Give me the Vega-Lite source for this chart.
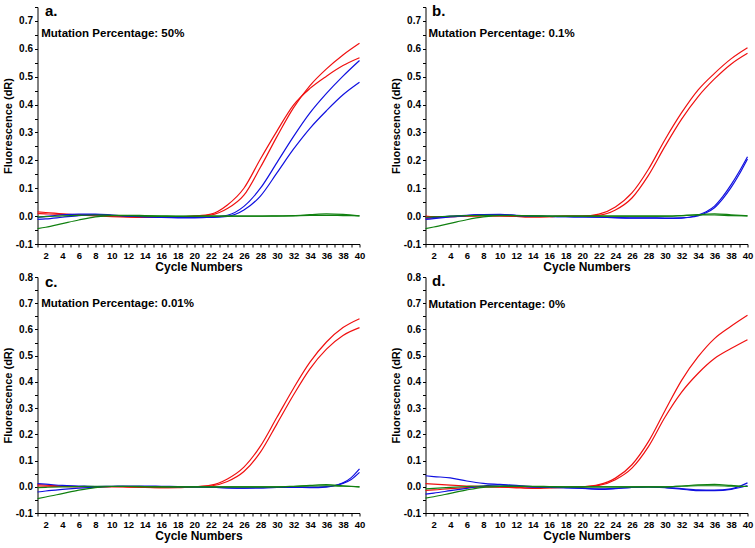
{
"$schema": "https://vega.github.io/schema/vega-lite/v6.json",
"background": "white",
"padding": {"left": 1.5, "top": 2, "right": 0, "bottom": 3},
"columns": 2,
"spacing": {"row": 33, "column": 66},
"bounds": "flush",
"datasets": {"q": [
{"p":"a","s":"r1","x":1,"y":0.015},{"p":"a","s":"r1","x":2,"y":0.013},{"p":"a","s":"r1","x":4,"y":0.008},{"p":"a","s":"r1","x":6,"y":0.004},{"p":"a","s":"r1","x":8,"y":0.001},{"p":"a","s":"r1","x":10,"y":-0.002},{"p":"a","s":"r1","x":12,"y":-0.004},{"p":"a","s":"r1","x":14,"y":-0.005},{"p":"a","s":"r1","x":16,"y":-0.005},{"p":"a","s":"r1","x":18,"y":-0.003},{"p":"a","s":"r1","x":20,"y":0.0},{"p":"a","s":"r1","x":22,"y":0.007},{"p":"a","s":"r1","x":24,"y":0.04},{"p":"a","s":"r1","x":26,"y":0.1},{"p":"a","s":"r1","x":28,"y":0.205},{"p":"a","s":"r1","x":30,"y":0.305},{"p":"a","s":"r1","x":32,"y":0.398},{"p":"a","s":"r1","x":34,"y":0.458},{"p":"a","s":"r1","x":36,"y":0.502},{"p":"a","s":"r1","x":38,"y":0.54},{"p":"a","s":"r1","x":40,"y":0.568},
{"p":"a","s":"r2","x":1,"y":0.009},{"p":"a","s":"r2","x":2,"y":0.008},{"p":"a","s":"r2","x":4,"y":0.006},{"p":"a","s":"r2","x":6,"y":0.005},{"p":"a","s":"r2","x":8,"y":0.004},{"p":"a","s":"r2","x":10,"y":0.001},{"p":"a","s":"r2","x":12,"y":-0.002},{"p":"a","s":"r2","x":14,"y":-0.004},{"p":"a","s":"r2","x":16,"y":-0.004},{"p":"a","s":"r2","x":18,"y":-0.002},{"p":"a","s":"r2","x":20,"y":0.0},{"p":"a","s":"r2","x":22,"y":0.004},{"p":"a","s":"r2","x":24,"y":0.027},{"p":"a","s":"r2","x":26,"y":0.075},{"p":"a","s":"r2","x":28,"y":0.175},{"p":"a","s":"r2","x":30,"y":0.285},{"p":"a","s":"r2","x":32,"y":0.388},{"p":"a","s":"r2","x":34,"y":0.468},{"p":"a","s":"r2","x":36,"y":0.528},{"p":"a","s":"r2","x":38,"y":0.578},{"p":"a","s":"r2","x":40,"y":0.62},
{"p":"a","s":"b1","x":1,"y":-0.012},{"p":"a","s":"b1","x":2,"y":-0.01},{"p":"a","s":"b1","x":4,"y":-0.004},{"p":"a","s":"b1","x":6,"y":0.002},{"p":"a","s":"b1","x":8,"y":0.005},{"p":"a","s":"b1","x":10,"y":0.003},{"p":"a","s":"b1","x":12,"y":0.0},{"p":"a","s":"b1","x":14,"y":-0.003},{"p":"a","s":"b1","x":16,"y":-0.005},{"p":"a","s":"b1","x":18,"y":-0.006},{"p":"a","s":"b1","x":20,"y":-0.006},{"p":"a","s":"b1","x":22,"y":-0.004},{"p":"a","s":"b1","x":24,"y":0.003},{"p":"a","s":"b1","x":26,"y":0.035},{"p":"a","s":"b1","x":28,"y":0.1},{"p":"a","s":"b1","x":30,"y":0.192},{"p":"a","s":"b1","x":32,"y":0.285},{"p":"a","s":"b1","x":34,"y":0.37},{"p":"a","s":"b1","x":36,"y":0.44},{"p":"a","s":"b1","x":38,"y":0.502},{"p":"a","s":"b1","x":40,"y":0.558},
{"p":"a","s":"b2","x":1,"y":-0.005},{"p":"a","s":"b2","x":2,"y":-0.001},{"p":"a","s":"b2","x":4,"y":0.005},{"p":"a","s":"b2","x":6,"y":0.007},{"p":"a","s":"b2","x":8,"y":0.007},{"p":"a","s":"b2","x":10,"y":0.004},{"p":"a","s":"b2","x":12,"y":0.0},{"p":"a","s":"b2","x":14,"y":-0.002},{"p":"a","s":"b2","x":16,"y":-0.004},{"p":"a","s":"b2","x":18,"y":-0.005},{"p":"a","s":"b2","x":20,"y":-0.005},{"p":"a","s":"b2","x":22,"y":-0.005},{"p":"a","s":"b2","x":24,"y":-0.001},{"p":"a","s":"b2","x":26,"y":0.022},{"p":"a","s":"b2","x":28,"y":0.072},{"p":"a","s":"b2","x":30,"y":0.155},{"p":"a","s":"b2","x":32,"y":0.24},{"p":"a","s":"b2","x":34,"y":0.315},{"p":"a","s":"b2","x":36,"y":0.378},{"p":"a","s":"b2","x":38,"y":0.435},{"p":"a","s":"b2","x":40,"y":0.48},
{"p":"a","s":"g1","x":1,"y":-0.045},{"p":"a","s":"g1","x":2,"y":-0.04},{"p":"a","s":"g1","x":4,"y":-0.027},{"p":"a","s":"g1","x":6,"y":-0.014},{"p":"a","s":"g1","x":8,"y":-0.003},{"p":"a","s":"g1","x":10,"y":0.002},{"p":"a","s":"g1","x":12,"y":0.003},{"p":"a","s":"g1","x":14,"y":0.002},{"p":"a","s":"g1","x":16,"y":0.001},{"p":"a","s":"g1","x":18,"y":0.0},{"p":"a","s":"g1","x":20,"y":0.0},{"p":"a","s":"g1","x":22,"y":0.0},{"p":"a","s":"g1","x":24,"y":0.0},{"p":"a","s":"g1","x":26,"y":0.0},{"p":"a","s":"g1","x":28,"y":0.0},{"p":"a","s":"g1","x":30,"y":0.001},{"p":"a","s":"g1","x":32,"y":0.002},{"p":"a","s":"g1","x":34,"y":0.005},{"p":"a","s":"g1","x":36,"y":0.008},{"p":"a","s":"g1","x":38,"y":0.006},{"p":"a","s":"g1","x":40,"y":0.001},
{"p":"a","s":"g2","x":1,"y":-0.003},{"p":"a","s":"g2","x":2,"y":-0.002},{"p":"a","s":"g2","x":4,"y":0.001},{"p":"a","s":"g2","x":6,"y":0.003},{"p":"a","s":"g2","x":8,"y":0.004},{"p":"a","s":"g2","x":10,"y":0.003},{"p":"a","s":"g2","x":12,"y":0.002},{"p":"a","s":"g2","x":14,"y":0.0},{"p":"a","s":"g2","x":16,"y":-0.001},{"p":"a","s":"g2","x":18,"y":-0.001},{"p":"a","s":"g2","x":20,"y":0.0},{"p":"a","s":"g2","x":22,"y":0.0},{"p":"a","s":"g2","x":24,"y":0.0},{"p":"a","s":"g2","x":26,"y":0.0},{"p":"a","s":"g2","x":28,"y":0.0},{"p":"a","s":"g2","x":30,"y":0.0},{"p":"a","s":"g2","x":32,"y":0.001},{"p":"a","s":"g2","x":34,"y":0.003},{"p":"a","s":"g2","x":36,"y":0.003},{"p":"a","s":"g2","x":38,"y":0.002},{"p":"a","s":"g2","x":40,"y":0.001},
{"p":"b","s":"r1","x":1,"y":0.0},{"p":"b","s":"r1","x":2,"y":-0.002},{"p":"b","s":"r1","x":4,"y":-0.002},{"p":"b","s":"r1","x":6,"y":0.0},{"p":"b","s":"r1","x":8,"y":0.001},{"p":"b","s":"r1","x":10,"y":0.001},{"p":"b","s":"r1","x":12,"y":-0.001},{"p":"b","s":"r1","x":14,"y":-0.003},{"p":"b","s":"r1","x":16,"y":-0.002},{"p":"b","s":"r1","x":18,"y":0.0},{"p":"b","s":"r1","x":20,"y":0.0},{"p":"b","s":"r1","x":22,"y":0.007},{"p":"b","s":"r1","x":24,"y":0.033},{"p":"b","s":"r1","x":26,"y":0.083},{"p":"b","s":"r1","x":28,"y":0.168},{"p":"b","s":"r1","x":30,"y":0.274},{"p":"b","s":"r1","x":32,"y":0.37},{"p":"b","s":"r1","x":34,"y":0.452},{"p":"b","s":"r1","x":36,"y":0.512},{"p":"b","s":"r1","x":38,"y":0.564},{"p":"b","s":"r1","x":40,"y":0.604},
{"p":"b","s":"r2","x":1,"y":-0.008},{"p":"b","s":"r2","x":2,"y":-0.006},{"p":"b","s":"r2","x":4,"y":-0.002},{"p":"b","s":"r2","x":6,"y":0.001},{"p":"b","s":"r2","x":8,"y":0.002},{"p":"b","s":"r2","x":10,"y":0.001},{"p":"b","s":"r2","x":12,"y":-0.001},{"p":"b","s":"r2","x":14,"y":-0.003},{"p":"b","s":"r2","x":16,"y":-0.002},{"p":"b","s":"r2","x":18,"y":0.0},{"p":"b","s":"r2","x":20,"y":0.0},{"p":"b","s":"r2","x":22,"y":0.003},{"p":"b","s":"r2","x":24,"y":0.022},{"p":"b","s":"r2","x":26,"y":0.065},{"p":"b","s":"r2","x":28,"y":0.146},{"p":"b","s":"r2","x":30,"y":0.25},{"p":"b","s":"r2","x":32,"y":0.347},{"p":"b","s":"r2","x":34,"y":0.428},{"p":"b","s":"r2","x":36,"y":0.492},{"p":"b","s":"r2","x":38,"y":0.545},{"p":"b","s":"r2","x":40,"y":0.584},
{"p":"b","s":"b1","x":1,"y":-0.012},{"p":"b","s":"b1","x":2,"y":-0.009},{"p":"b","s":"b1","x":4,"y":-0.003},{"p":"b","s":"b1","x":6,"y":0.002},{"p":"b","s":"b1","x":8,"y":0.005},{"p":"b","s":"b1","x":10,"y":0.006},{"p":"b","s":"b1","x":12,"y":0.003},{"p":"b","s":"b1","x":14,"y":0.0},{"p":"b","s":"b1","x":16,"y":-0.001},{"p":"b","s":"b1","x":18,"y":-0.002},{"p":"b","s":"b1","x":20,"y":-0.003},{"p":"b","s":"b1","x":22,"y":-0.004},{"p":"b","s":"b1","x":24,"y":-0.006},{"p":"b","s":"b1","x":26,"y":-0.007},{"p":"b","s":"b1","x":28,"y":-0.007},{"p":"b","s":"b1","x":30,"y":-0.008},{"p":"b","s":"b1","x":32,"y":-0.007},{"p":"b","s":"b1","x":33,"y":-0.004},{"p":"b","s":"b1","x":34,"y":0.004},{"p":"b","s":"b1","x":35,"y":0.016},{"p":"b","s":"b1","x":36,"y":0.036},{"p":"b","s":"b1","x":37,"y":0.07},{"p":"b","s":"b1","x":38,"y":0.112},{"p":"b","s":"b1","x":39,"y":0.16},{"p":"b","s":"b1","x":40,"y":0.213},
{"p":"b","s":"b2","x":1,"y":-0.006},{"p":"b","s":"b2","x":2,"y":-0.005},{"p":"b","s":"b2","x":4,"y":0.0},{"p":"b","s":"b2","x":6,"y":0.003},{"p":"b","s":"b2","x":8,"y":0.005},{"p":"b","s":"b2","x":10,"y":0.005},{"p":"b","s":"b2","x":12,"y":0.002},{"p":"b","s":"b2","x":14,"y":0.0},{"p":"b","s":"b2","x":16,"y":-0.001},{"p":"b","s":"b2","x":18,"y":-0.002},{"p":"b","s":"b2","x":20,"y":-0.003},{"p":"b","s":"b2","x":22,"y":-0.004},{"p":"b","s":"b2","x":24,"y":-0.005},{"p":"b","s":"b2","x":26,"y":-0.006},{"p":"b","s":"b2","x":28,"y":-0.006},{"p":"b","s":"b2","x":30,"y":-0.007},{"p":"b","s":"b2","x":32,"y":-0.006},{"p":"b","s":"b2","x":33,"y":-0.004},{"p":"b","s":"b2","x":34,"y":0.001},{"p":"b","s":"b2","x":35,"y":0.012},{"p":"b","s":"b2","x":36,"y":0.03},{"p":"b","s":"b2","x":37,"y":0.062},{"p":"b","s":"b2","x":38,"y":0.102},{"p":"b","s":"b2","x":39,"y":0.15},{"p":"b","s":"b2","x":40,"y":0.205},
{"p":"b","s":"g1","x":1,"y":-0.045},{"p":"b","s":"g1","x":2,"y":-0.039},{"p":"b","s":"g1","x":4,"y":-0.026},{"p":"b","s":"g1","x":6,"y":-0.013},{"p":"b","s":"g1","x":8,"y":-0.003},{"p":"b","s":"g1","x":10,"y":0.002},{"p":"b","s":"g1","x":12,"y":0.002},{"p":"b","s":"g1","x":14,"y":0.001},{"p":"b","s":"g1","x":16,"y":0.0},{"p":"b","s":"g1","x":18,"y":0.0},{"p":"b","s":"g1","x":20,"y":0.0},{"p":"b","s":"g1","x":22,"y":0.0},{"p":"b","s":"g1","x":24,"y":0.0},{"p":"b","s":"g1","x":26,"y":0.0},{"p":"b","s":"g1","x":28,"y":0.0},{"p":"b","s":"g1","x":30,"y":0.0},{"p":"b","s":"g1","x":32,"y":0.002},{"p":"b","s":"g1","x":34,"y":0.005},{"p":"b","s":"g1","x":36,"y":0.008},{"p":"b","s":"g1","x":38,"y":0.005},{"p":"b","s":"g1","x":40,"y":0.001},
{"p":"b","s":"g2","x":1,"y":-0.004},{"p":"b","s":"g2","x":2,"y":-0.003},{"p":"b","s":"g2","x":4,"y":0.0},{"p":"b","s":"g2","x":6,"y":0.002},{"p":"b","s":"g2","x":8,"y":0.003},{"p":"b","s":"g2","x":10,"y":0.003},{"p":"b","s":"g2","x":12,"y":0.002},{"p":"b","s":"g2","x":14,"y":0.001},{"p":"b","s":"g2","x":16,"y":0.0},{"p":"b","s":"g2","x":18,"y":0.0},{"p":"b","s":"g2","x":20,"y":0.0},{"p":"b","s":"g2","x":22,"y":0.0},{"p":"b","s":"g2","x":24,"y":0.0},{"p":"b","s":"g2","x":26,"y":0.0},{"p":"b","s":"g2","x":28,"y":0.0},{"p":"b","s":"g2","x":30,"y":0.0},{"p":"b","s":"g2","x":32,"y":0.002},{"p":"b","s":"g2","x":34,"y":0.004},{"p":"b","s":"g2","x":36,"y":0.004},{"p":"b","s":"g2","x":38,"y":0.002},{"p":"b","s":"g2","x":40,"y":0.001},
{"p":"c","s":"r1","x":1,"y":0.008},{"p":"c","s":"r1","x":2,"y":0.006},{"p":"c","s":"r1","x":4,"y":0.003},{"p":"c","s":"r1","x":6,"y":0.001},{"p":"c","s":"r1","x":8,"y":0.0},{"p":"c","s":"r1","x":10,"y":0.0},{"p":"c","s":"r1","x":12,"y":-0.001},{"p":"c","s":"r1","x":14,"y":-0.002},{"p":"c","s":"r1","x":16,"y":-0.003},{"p":"c","s":"r1","x":18,"y":-0.003},{"p":"c","s":"r1","x":20,"y":0.0},{"p":"c","s":"r1","x":22,"y":0.006},{"p":"c","s":"r1","x":24,"y":0.03},{"p":"c","s":"r1","x":26,"y":0.075},{"p":"c","s":"r1","x":28,"y":0.155},{"p":"c","s":"r1","x":30,"y":0.265},{"p":"c","s":"r1","x":32,"y":0.375},{"p":"c","s":"r1","x":34,"y":0.475},{"p":"c","s":"r1","x":36,"y":0.552},{"p":"c","s":"r1","x":38,"y":0.607},{"p":"c","s":"r1","x":40,"y":0.641},
{"p":"c","s":"r2","x":1,"y":0.003},{"p":"c","s":"r2","x":2,"y":0.002},{"p":"c","s":"r2","x":4,"y":0.001},{"p":"c","s":"r2","x":6,"y":0.0},{"p":"c","s":"r2","x":8,"y":0.0},{"p":"c","s":"r2","x":10,"y":0.001},{"p":"c","s":"r2","x":12,"y":0.0},{"p":"c","s":"r2","x":14,"y":-0.002},{"p":"c","s":"r2","x":16,"y":-0.003},{"p":"c","s":"r2","x":18,"y":-0.002},{"p":"c","s":"r2","x":20,"y":0.0},{"p":"c","s":"r2","x":22,"y":0.003},{"p":"c","s":"r2","x":24,"y":0.02},{"p":"c","s":"r2","x":26,"y":0.058},{"p":"c","s":"r2","x":28,"y":0.132},{"p":"c","s":"r2","x":30,"y":0.24},{"p":"c","s":"r2","x":32,"y":0.35},{"p":"c","s":"r2","x":34,"y":0.45},{"p":"c","s":"r2","x":36,"y":0.525},{"p":"c","s":"r2","x":38,"y":0.577},{"p":"c","s":"r2","x":40,"y":0.607},
{"p":"c","s":"b1","x":1,"y":0.012},{"p":"c","s":"b1","x":2,"y":0.01},{"p":"c","s":"b1","x":4,"y":0.005},{"p":"c","s":"b1","x":6,"y":0.003},{"p":"c","s":"b1","x":8,"y":0.001},{"p":"c","s":"b1","x":10,"y":0.002},{"p":"c","s":"b1","x":12,"y":0.003},{"p":"c","s":"b1","x":14,"y":0.003},{"p":"c","s":"b1","x":16,"y":0.002},{"p":"c","s":"b1","x":18,"y":0.001},{"p":"c","s":"b1","x":20,"y":0.0},{"p":"c","s":"b1","x":22,"y":-0.002},{"p":"c","s":"b1","x":24,"y":-0.004},{"p":"c","s":"b1","x":26,"y":-0.005},{"p":"c","s":"b1","x":28,"y":-0.004},{"p":"c","s":"b1","x":30,"y":-0.002},{"p":"c","s":"b1","x":32,"y":-0.002},{"p":"c","s":"b1","x":34,"y":-0.003},{"p":"c","s":"b1","x":36,"y":-0.001},{"p":"c","s":"b1","x":37,"y":0.004},{"p":"c","s":"b1","x":38,"y":0.015},{"p":"c","s":"b1","x":39,"y":0.035},{"p":"c","s":"b1","x":40,"y":0.068},
{"p":"c","s":"b2","x":1,"y":-0.02},{"p":"c","s":"b2","x":2,"y":-0.016},{"p":"c","s":"b2","x":4,"y":-0.01},{"p":"c","s":"b2","x":6,"y":-0.005},{"p":"c","s":"b2","x":8,"y":-0.001},{"p":"c","s":"b2","x":10,"y":0.001},{"p":"c","s":"b2","x":12,"y":0.001},{"p":"c","s":"b2","x":14,"y":0.001},{"p":"c","s":"b2","x":16,"y":0.001},{"p":"c","s":"b2","x":18,"y":0.0},{"p":"c","s":"b2","x":20,"y":0.0},{"p":"c","s":"b2","x":22,"y":-0.002},{"p":"c","s":"b2","x":24,"y":-0.004},{"p":"c","s":"b2","x":26,"y":-0.005},{"p":"c","s":"b2","x":28,"y":-0.004},{"p":"c","s":"b2","x":30,"y":-0.002},{"p":"c","s":"b2","x":32,"y":-0.001},{"p":"c","s":"b2","x":34,"y":-0.001},{"p":"c","s":"b2","x":36,"y":0.001},{"p":"c","s":"b2","x":37,"y":0.005},{"p":"c","s":"b2","x":38,"y":0.013},{"p":"c","s":"b2","x":39,"y":0.028},{"p":"c","s":"b2","x":40,"y":0.055},
{"p":"c","s":"g1","x":1,"y":-0.045},{"p":"c","s":"g1","x":2,"y":-0.039},{"p":"c","s":"g1","x":4,"y":-0.026},{"p":"c","s":"g1","x":6,"y":-0.013},{"p":"c","s":"g1","x":8,"y":-0.003},{"p":"c","s":"g1","x":10,"y":0.001},{"p":"c","s":"g1","x":12,"y":0.002},{"p":"c","s":"g1","x":14,"y":0.001},{"p":"c","s":"g1","x":16,"y":0.0},{"p":"c","s":"g1","x":18,"y":0.0},{"p":"c","s":"g1","x":20,"y":0.0},{"p":"c","s":"g1","x":22,"y":0.0},{"p":"c","s":"g1","x":24,"y":0.0},{"p":"c","s":"g1","x":26,"y":0.0},{"p":"c","s":"g1","x":28,"y":0.0},{"p":"c","s":"g1","x":30,"y":0.0},{"p":"c","s":"g1","x":32,"y":0.002},{"p":"c","s":"g1","x":34,"y":0.005},{"p":"c","s":"g1","x":36,"y":0.008},{"p":"c","s":"g1","x":38,"y":0.004},{"p":"c","s":"g1","x":40,"y":0.0},
{"p":"c","s":"g2","x":1,"y":-0.003},{"p":"c","s":"g2","x":2,"y":-0.002},{"p":"c","s":"g2","x":4,"y":0.0},{"p":"c","s":"g2","x":6,"y":0.001},{"p":"c","s":"g2","x":8,"y":0.002},{"p":"c","s":"g2","x":10,"y":0.002},{"p":"c","s":"g2","x":12,"y":0.001},{"p":"c","s":"g2","x":14,"y":0.0},{"p":"c","s":"g2","x":16,"y":0.0},{"p":"c","s":"g2","x":18,"y":0.0},{"p":"c","s":"g2","x":20,"y":0.0},{"p":"c","s":"g2","x":22,"y":0.0},{"p":"c","s":"g2","x":24,"y":0.0},{"p":"c","s":"g2","x":26,"y":0.0},{"p":"c","s":"g2","x":28,"y":0.0},{"p":"c","s":"g2","x":30,"y":0.0},{"p":"c","s":"g2","x":32,"y":0.001},{"p":"c","s":"g2","x":34,"y":0.003},{"p":"c","s":"g2","x":36,"y":0.004},{"p":"c","s":"g2","x":38,"y":0.002},{"p":"c","s":"g2","x":40,"y":0.0},
{"p":"d","s":"r1","x":1,"y":0.012},{"p":"d","s":"r1","x":2,"y":0.01},{"p":"d","s":"r1","x":4,"y":0.006},{"p":"d","s":"r1","x":6,"y":0.003},{"p":"d","s":"r1","x":8,"y":0.001},{"p":"d","s":"r1","x":10,"y":-0.001},{"p":"d","s":"r1","x":12,"y":-0.004},{"p":"d","s":"r1","x":14,"y":-0.006},{"p":"d","s":"r1","x":16,"y":-0.004},{"p":"d","s":"r1","x":18,"y":-0.002},{"p":"d","s":"r1","x":20,"y":0.0},{"p":"d","s":"r1","x":22,"y":0.008},{"p":"d","s":"r1","x":24,"y":0.033},{"p":"d","s":"r1","x":26,"y":0.084},{"p":"d","s":"r1","x":28,"y":0.172},{"p":"d","s":"r1","x":30,"y":0.29},{"p":"d","s":"r1","x":32,"y":0.405},{"p":"d","s":"r1","x":34,"y":0.495},{"p":"d","s":"r1","x":36,"y":0.565},{"p":"d","s":"r1","x":38,"y":0.612},{"p":"d","s":"r1","x":40,"y":0.654},
{"p":"d","s":"r2","x":1,"y":-0.014},{"p":"d","s":"r2","x":2,"y":-0.012},{"p":"d","s":"r2","x":4,"y":-0.007},{"p":"d","s":"r2","x":6,"y":-0.003},{"p":"d","s":"r2","x":8,"y":0.0},{"p":"d","s":"r2","x":10,"y":0.0},{"p":"d","s":"r2","x":12,"y":-0.002},{"p":"d","s":"r2","x":14,"y":-0.004},{"p":"d","s":"r2","x":16,"y":-0.003},{"p":"d","s":"r2","x":18,"y":-0.002},{"p":"d","s":"r2","x":20,"y":0.0},{"p":"d","s":"r2","x":22,"y":0.005},{"p":"d","s":"r2","x":24,"y":0.027},{"p":"d","s":"r2","x":26,"y":0.071},{"p":"d","s":"r2","x":28,"y":0.153},{"p":"d","s":"r2","x":30,"y":0.265},{"p":"d","s":"r2","x":32,"y":0.36},{"p":"d","s":"r2","x":34,"y":0.432},{"p":"d","s":"r2","x":36,"y":0.489},{"p":"d","s":"r2","x":38,"y":0.527},{"p":"d","s":"r2","x":40,"y":0.561},
{"p":"d","s":"b1","x":1,"y":0.042},{"p":"d","s":"b1","x":2,"y":0.039},{"p":"d","s":"b1","x":4,"y":0.034},{"p":"d","s":"b1","x":6,"y":0.022},{"p":"d","s":"b1","x":8,"y":0.013},{"p":"d","s":"b1","x":10,"y":0.009},{"p":"d","s":"b1","x":12,"y":0.005},{"p":"d","s":"b1","x":14,"y":0.001},{"p":"d","s":"b1","x":16,"y":-0.002},{"p":"d","s":"b1","x":18,"y":-0.004},{"p":"d","s":"b1","x":20,"y":-0.006},{"p":"d","s":"b1","x":22,"y":-0.008},{"p":"d","s":"b1","x":24,"y":-0.006},{"p":"d","s":"b1","x":26,"y":-0.002},{"p":"d","s":"b1","x":28,"y":0.0},{"p":"d","s":"b1","x":30,"y":-0.002},{"p":"d","s":"b1","x":32,"y":-0.007},{"p":"d","s":"b1","x":34,"y":-0.012},{"p":"d","s":"b1","x":36,"y":-0.013},{"p":"d","s":"b1","x":38,"y":-0.008},{"p":"d","s":"b1","x":40,"y":0.015},
{"p":"d","s":"b2","x":1,"y":-0.028},{"p":"d","s":"b2","x":2,"y":-0.024},{"p":"d","s":"b2","x":4,"y":-0.015},{"p":"d","s":"b2","x":6,"y":-0.006},{"p":"d","s":"b2","x":8,"y":0.003},{"p":"d","s":"b2","x":10,"y":0.007},{"p":"d","s":"b2","x":12,"y":0.003},{"p":"d","s":"b2","x":14,"y":-0.001},{"p":"d","s":"b2","x":16,"y":-0.002},{"p":"d","s":"b2","x":18,"y":-0.003},{"p":"d","s":"b2","x":20,"y":-0.005},{"p":"d","s":"b2","x":22,"y":-0.01},{"p":"d","s":"b2","x":24,"y":-0.007},{"p":"d","s":"b2","x":26,"y":-0.002},{"p":"d","s":"b2","x":28,"y":0.0},{"p":"d","s":"b2","x":30,"y":-0.003},{"p":"d","s":"b2","x":32,"y":-0.009},{"p":"d","s":"b2","x":34,"y":-0.015},{"p":"d","s":"b2","x":36,"y":-0.015},{"p":"d","s":"b2","x":38,"y":-0.01},{"p":"d","s":"b2","x":40,"y":0.005},
{"p":"d","s":"g1","x":1,"y":-0.043},{"p":"d","s":"g1","x":2,"y":-0.038},{"p":"d","s":"g1","x":4,"y":-0.025},{"p":"d","s":"g1","x":6,"y":-0.012},{"p":"d","s":"g1","x":8,"y":-0.002},{"p":"d","s":"g1","x":10,"y":0.001},{"p":"d","s":"g1","x":12,"y":0.002},{"p":"d","s":"g1","x":14,"y":0.002},{"p":"d","s":"g1","x":16,"y":0.001},{"p":"d","s":"g1","x":18,"y":0.0},{"p":"d","s":"g1","x":20,"y":0.0},{"p":"d","s":"g1","x":22,"y":0.0},{"p":"d","s":"g1","x":24,"y":0.0},{"p":"d","s":"g1","x":26,"y":0.0},{"p":"d","s":"g1","x":28,"y":0.0},{"p":"d","s":"g1","x":30,"y":0.0},{"p":"d","s":"g1","x":32,"y":0.003},{"p":"d","s":"g1","x":34,"y":0.007},{"p":"d","s":"g1","x":36,"y":0.009},{"p":"d","s":"g1","x":38,"y":0.005},{"p":"d","s":"g1","x":40,"y":0.001},
{"p":"d","s":"g2","x":1,"y":-0.008},{"p":"d","s":"g2","x":2,"y":-0.006},{"p":"d","s":"g2","x":4,"y":-0.002},{"p":"d","s":"g2","x":6,"y":0.001},{"p":"d","s":"g2","x":8,"y":0.003},{"p":"d","s":"g2","x":10,"y":0.003},{"p":"d","s":"g2","x":12,"y":0.002},{"p":"d","s":"g2","x":14,"y":0.001},{"p":"d","s":"g2","x":16,"y":0.0},{"p":"d","s":"g2","x":18,"y":0.0},{"p":"d","s":"g2","x":20,"y":0.0},{"p":"d","s":"g2","x":22,"y":0.0},{"p":"d","s":"g2","x":24,"y":0.0},{"p":"d","s":"g2","x":26,"y":0.0},{"p":"d","s":"g2","x":28,"y":0.0},{"p":"d","s":"g2","x":30,"y":0.0},{"p":"d","s":"g2","x":32,"y":0.002},{"p":"d","s":"g2","x":34,"y":0.004},{"p":"d","s":"g2","x":36,"y":0.004},{"p":"d","s":"g2","x":38,"y":0.002},{"p":"d","s":"g2","x":40,"y":0.001}
]},
"concat": [
{"width": 322, "height": 237, "layer": [
 {"data": {"name": "q"}, "transform": [{"filter": "datum.p == 'a'"}],
  "mark": {"type": "line", "interpolate": "monotone", "strokeWidth": 1.2},
  "encoding": {
   "x": {"field": "x", "type": "quantitative", "scale": {"domain": [1, 40], "nice": false, "zero": false},
    "axis": {"title": "Cycle Numbers", "tickCount": 100, "values": [1,2,3,4,5,6,7,8,9,10,11,12,13,14,15,16,17,18,19,20,21,22,23,24,25,26,27,28,29,30,31,32,33,34,35,36,37,38,39,40], "labelExpr": "datum.value % 2 == 0 ? format(datum.value, 'd') : ''", "labelFontSize": 9.5, "titleFontSize": 12, "labelPadding": 3, "titlePadding": 2, "labelOverlap": false, "labelFlush": false}},
   "y": {"field": "y", "type": "quantitative", "scale": {"domain": [-0.1, 0.75], "nice": false, "zero": false},
    "axis": {"title": "Fluorescence (dR)", "tickCount": 100, "values": [-0.1,-0.05,0,0.05,0.1,0.15,0.2,0.25,0.3,0.35,0.4,0.45,0.5,0.55,0.6,0.65,0.7,0.75], "labelExpr": "abs(round(datum.value*100)) % 10 == 0 ? replace(format(datum.value, '.1f'), '\u2212', '-') : ''", "labelFontSize": 10, "titleFontSize": 11, "labelPadding": 2, "titlePadding": 2, "labelOverlap": false}},
   "color": {"field": "s", "type": "nominal", "scale": {"domain": ["r1","r2","b1","b2","g1","g2"], "range": ["#f01010","#f01010","#1010e0","#1010e0","#108010","#108010"]}, "legend": null}
  }},
 {"data": {"values": [{}]}, "mark": {"type": "text", "text": "a.", "font": "Liberation Sans", "fontSize": 15, "fontWeight": "bold", "align": "left", "baseline": "middle", "color": "black"}, "encoding": {"x": {"datum": 1.9}, "y": {"datum": 0.736}}},
 {"data": {"values": [{}]}, "mark": {"type": "text", "text": "Mutation Percentage: 50%", "font": "Liberation Sans", "fontSize": 11.5, "fontWeight": "bold", "align": "left", "baseline": "middle", "color": "black"}, "encoding": {"x": {"datum": 1.45}, "y": {"datum": 0.653}}}
]},
{"width": 322, "height": 237, "layer": [
 {"data": {"name": "q"}, "transform": [{"filter": "datum.p == 'b'"}],
  "mark": {"type": "line", "interpolate": "monotone", "strokeWidth": 1.2},
  "encoding": {
   "x": {"field": "x", "type": "quantitative", "scale": {"domain": [1, 40], "nice": false, "zero": false},
    "axis": {"title": "Cycle Numbers", "tickCount": 100, "values": [1,2,3,4,5,6,7,8,9,10,11,12,13,14,15,16,17,18,19,20,21,22,23,24,25,26,27,28,29,30,31,32,33,34,35,36,37,38,39,40], "labelExpr": "datum.value % 2 == 0 ? format(datum.value, 'd') : ''", "labelFontSize": 9.5, "titleFontSize": 12, "labelPadding": 3, "titlePadding": 2, "labelOverlap": false, "labelFlush": false}},
   "y": {"field": "y", "type": "quantitative", "scale": {"domain": [-0.1, 0.75], "nice": false, "zero": false},
    "axis": {"title": "Fluorescence (dR)", "tickCount": 100, "values": [-0.1,-0.05,0,0.05,0.1,0.15,0.2,0.25,0.3,0.35,0.4,0.45,0.5,0.55,0.6,0.65,0.7,0.75], "labelExpr": "abs(round(datum.value*100)) % 10 == 0 ? replace(format(datum.value, '.1f'), '\u2212', '-') : ''", "labelFontSize": 10, "titleFontSize": 11, "labelPadding": 2, "titlePadding": 2, "labelOverlap": false}},
   "color": {"field": "s", "type": "nominal", "scale": {"domain": ["r1","r2","b1","b2","g1","g2"], "range": ["#f01010","#f01010","#1010e0","#1010e0","#108010","#108010"]}, "legend": null}
  }},
 {"data": {"values": [{}]}, "mark": {"type": "text", "text": "b.", "font": "Liberation Sans", "fontSize": 15, "fontWeight": "bold", "align": "left", "baseline": "middle", "color": "black"}, "encoding": {"x": {"datum": 1.8}, "y": {"datum": 0.736}}},
 {"data": {"values": [{}]}, "mark": {"type": "text", "text": "Mutation Percentage: 0.1%", "font": "Liberation Sans", "fontSize": 11.5, "fontWeight": "bold", "align": "left", "baseline": "middle", "color": "black"}, "encoding": {"x": {"datum": 1.35}, "y": {"datum": 0.653}}}
]},
{"width": 322, "height": 236, "layer": [
 {"data": {"name": "q"}, "transform": [{"filter": "datum.p == 'c'"}],
  "mark": {"type": "line", "interpolate": "monotone", "strokeWidth": 1.2},
  "encoding": {
   "x": {"field": "x", "type": "quantitative", "scale": {"domain": [1, 40], "nice": false, "zero": false},
    "axis": {"title": "Cycle Numbers", "tickCount": 100, "values": [1,2,3,4,5,6,7,8,9,10,11,12,13,14,15,16,17,18,19,20,21,22,23,24,25,26,27,28,29,30,31,32,33,34,35,36,37,38,39,40], "labelExpr": "datum.value % 2 == 0 ? format(datum.value, 'd') : ''", "labelFontSize": 9.5, "titleFontSize": 12, "labelPadding": 3, "titlePadding": 2, "labelOverlap": false, "labelFlush": false}},
   "y": {"field": "y", "type": "quantitative", "scale": {"domain": [-0.1, 0.8], "nice": false, "zero": false},
    "axis": {"title": "Fluorescence (dR)", "tickCount": 100, "values": [-0.1,-0.05,0,0.05,0.1,0.15,0.2,0.25,0.3,0.35,0.4,0.45,0.5,0.55,0.6,0.65,0.7,0.75,0.8], "labelExpr": "abs(round(datum.value*100)) % 10 == 0 ? replace(format(datum.value, '.1f'), '\u2212', '-') : ''", "labelFontSize": 10, "titleFontSize": 11, "labelPadding": 2, "titlePadding": 2, "labelOverlap": false}},
   "color": {"field": "s", "type": "nominal", "scale": {"domain": ["r1","r2","b1","b2","g1","g2"], "range": ["#f01010","#f01010","#1010e0","#1010e0","#108010","#108010"]}, "legend": null}
  }},
 {"data": {"values": [{}]}, "mark": {"type": "text", "text": "c.", "font": "Liberation Sans", "fontSize": 15, "fontWeight": "bold", "align": "left", "baseline": "middle", "color": "black"}, "encoding": {"x": {"datum": 1.9}, "y": {"datum": 0.78}}},
 {"data": {"values": [{}]}, "mark": {"type": "text", "text": "Mutation Percentage: 0.01%", "font": "Liberation Sans", "fontSize": 11.5, "fontWeight": "bold", "align": "left", "baseline": "middle", "color": "black"}, "encoding": {"x": {"datum": 1.45}, "y": {"datum": 0.698}}}
]},
{"width": 322, "height": 236, "layer": [
 {"data": {"name": "q"}, "transform": [{"filter": "datum.p == 'd'"}],
  "mark": {"type": "line", "interpolate": "monotone", "strokeWidth": 1.2},
  "encoding": {
   "x": {"field": "x", "type": "quantitative", "scale": {"domain": [1, 40], "nice": false, "zero": false},
    "axis": {"title": "Cycle Numbers", "tickCount": 100, "values": [1,2,3,4,5,6,7,8,9,10,11,12,13,14,15,16,17,18,19,20,21,22,23,24,25,26,27,28,29,30,31,32,33,34,35,36,37,38,39,40], "labelExpr": "datum.value % 2 == 0 ? format(datum.value, 'd') : ''", "labelFontSize": 9.5, "titleFontSize": 12, "labelPadding": 3, "titlePadding": 2, "labelOverlap": false, "labelFlush": false}},
   "y": {"field": "y", "type": "quantitative", "scale": {"domain": [-0.1, 0.8], "nice": false, "zero": false},
    "axis": {"title": "Fluorescence (dR)", "tickCount": 100, "values": [-0.1,-0.05,0,0.05,0.1,0.15,0.2,0.25,0.3,0.35,0.4,0.45,0.5,0.55,0.6,0.65,0.7,0.75,0.8], "labelExpr": "abs(round(datum.value*100)) % 10 == 0 ? replace(format(datum.value, '.1f'), '\u2212', '-') : ''", "labelFontSize": 10, "titleFontSize": 11, "labelPadding": 2, "titlePadding": 2, "labelOverlap": false}},
   "color": {"field": "s", "type": "nominal", "scale": {"domain": ["r1","r2","b1","b2","g1","g2"], "range": ["#f01010","#f01010","#1010e0","#1010e0","#108010","#108010"]}, "legend": null}
  }},
 {"data": {"values": [{}]}, "mark": {"type": "text", "text": "d.", "font": "Liberation Sans", "fontSize": 15, "fontWeight": "bold", "align": "left", "baseline": "middle", "color": "black"}, "encoding": {"x": {"datum": 1.8}, "y": {"datum": 0.784}}},
 {"data": {"values": [{}]}, "mark": {"type": "text", "text": "Mutation Percentage: 0%", "font": "Liberation Sans", "fontSize": 11.5, "fontWeight": "bold", "align": "left", "baseline": "middle", "color": "black"}, "encoding": {"x": {"datum": 1.35}, "y": {"datum": 0.695}}}
]}
],
"config": {
 "view": {"stroke": null},
 "axis": {"grid": false, "tickCount": 100, "labelOverlap": false, "labelBound": false, "domainColor": "#000000", "tickColor": "#000000", "labelColor": "#000000", "titleColor": "#000000", "labelFont": "Liberation Sans", "titleFont": "Liberation Sans", "labelFontWeight": "bold", "titleFontWeight": "bold", "tickSize": 3, "domainWidth": 1, "tickWidth": 1}
}
}
